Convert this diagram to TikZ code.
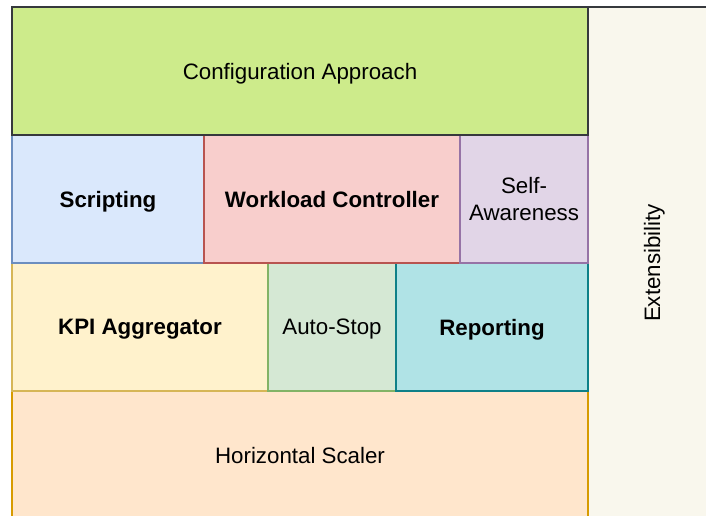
\documentclass[tikz,border=0pt]{standalone}
\usepackage{fontspec}
\setmainfont{Liberation Sans}
\usetikzlibrary{positioning}
\definecolor{cfgfill}{HTML}{CDEB8B}
\definecolor{darkline}{HTML}{36393D}
\definecolor{extfill}{HTML}{F9F7ED}
\definecolor{bluefill}{HTML}{DAE8FC}
\definecolor{blueline}{HTML}{6C8EBF}
\definecolor{redfill}{HTML}{F8CECC}
\definecolor{redline}{HTML}{B85450}
\definecolor{purplefill}{HTML}{E1D5E7}
\definecolor{purpleline}{HTML}{9673A6}
\definecolor{yellowfill}{HTML}{FFF2CC}
\definecolor{yellowline}{HTML}{D6B656}
\definecolor{greenfill}{HTML}{D5E8D4}
\definecolor{greenline}{HTML}{82B366}
\definecolor{tealfill}{HTML}{B0E3E6}
\definecolor{tealline}{HTML}{0E8088}
\definecolor{orangefill}{HTML}{FFE6CC}
\definecolor{orangeline}{HTML}{D79B00}
\tikzset{
  every picture/.style={font=\fontsize{12.7}{15.3}\selectfont},
  layer/.style 2 args={draw=#1, fill=#2, line width=0.7pt, align=center,
    inner sep=0pt, outer sep=0pt, text depth=0pt, minimum height=2.56cm},
  strong/.style={font=\fontsize{12.7}{15.3}\selectfont\bfseries},
}
\begin{document}
\begin{tikzpicture}[x=0.02cm, y=-0.02cm]
  \useasboundingbox (0,0) rectangle (706,516);
  % side column
  \node[layer={darkline}{extfill}, minimum width=10.24cm, rotate=90] (ext) at (652,263) {Extensibility};
  % bottom layer
  \node[layer={orangeline}{orangefill}, minimum width=11.52cm] (scaler) at (300,455) {Horizontal Scaler};
  % third row
  \node[layer={yellowline}{yellowfill}, minimum width=5.12cm, strong] (kpi) at (140,327) {KPI Aggregator};
  \node[layer={greenline}{greenfill}, minimum width=2.56cm] (stop) at (332,327) {Auto-Stop};
  \node[layer={tealline}{tealfill}, minimum width=3.84cm, strong] (report) at (492,327) {Reporting};
  % second row
  \node[layer={blueline}{bluefill}, minimum width=3.84cm, strong] (script) at (108,199) {Scripting};
  \node[layer={redline}{redfill}, minimum width=5.12cm, strong] (workload) at (332,199) {Workload Controller};
  \node[layer={purpleline}{purplefill}, minimum width=2.56cm] (aware) at (524,199) {Self-\\Awareness};
  % top layer
  \node[layer={darkline}{cfgfill}, minimum width=11.52cm] (config) at (300,71) {Configuration Approach};
\end{tikzpicture}
\end{document}
